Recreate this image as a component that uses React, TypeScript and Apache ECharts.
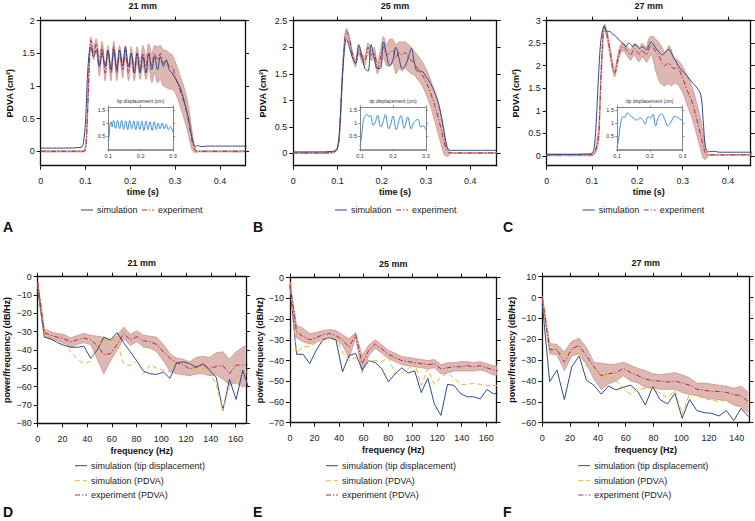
import React, { useEffect, useRef } from "react";
import * as echarts from "echarts";

// ---------- Top panels (PDVA vs time) ----------
const tA = [0, 0.05, 0.09, 0.095, 0.1, 0.104, 0.108, 0.112, 0.118, 0.124, 0.131, 0.137, 0.144, 0.15, 0.157, 0.163, 0.17, 0.176, 0.183, 0.189, 0.196, 0.202, 0.209, 0.215, 0.222, 0.228, 0.235, 0.241, 0.248, 0.254, 0.261, 0.267, 0.274, 0.28, 0.287, 0.293, 0.3, 0.31, 0.32, 0.33, 0.338, 0.345, 0.35, 0.36, 0.37, 0.38, 0.4, 0.46];
const simA = [0.05, 0.05, 0.06, 0.12, 0.45, 1.1, 1.5, 1.6, 1.45, 1.55, 1.3, 1.5, 1.3, 1.55, 1.25, 1.55, 1.25, 1.55, 1.3, 1.6, 1.3, 1.5, 1.2, 1.5, 1.2, 1.45, 1.2, 1.5, 1.25, 1.45, 1.25, 1.45, 1.3, 1.4, 1.25, 1.2, 1.12, 1.0, 0.78, 0.5, 0.2, 0.07, 0.09, 0.07, 0.08, 0.08, 0.08, 0.08];
const expA = [0, 0, 0, 0, 0.03, 0.5, 1.25, 1.7, 1.5, 1.65, 1.3, 1.6, 1.2, 1.55, 1.2, 1.6, 1.2, 1.55, 1.25, 1.55, 1.2, 1.5, 1.2, 1.5, 1.25, 1.5, 1.3, 1.5, 1.3, 1.5, 1.4, 1.5, 1.35, 1.4, 1.3, 1.3, 1.15, 0.95, 0.75, 0.45, 0.15, 0.01, 0, 0, 0, 0, 0, 0];
const loA = [-0.01, -0.01, -0.01, -0.01, 0.0, 0.4, 1.1, 1.6, 1.4, 1.55, 1.15, 1.5, 1.08, 1.45, 1.08, 1.48, 1.08, 1.45, 1.12, 1.45, 1.08, 1.38, 1.08, 1.36, 1.1, 1.32, 1.1, 1.28, 1.05, 1.2, 1.05, 1.1, 1.0, 0.98, 0.95, 0.95, 0.9, 0.72, 0.5, 0.25, 0.02, -0.02, -0.01, -0.01, -0.01, -0.01, -0.01, -0.01];
const hiA = [0.01, 0.01, 0.01, 0.01, 0.08, 0.65, 1.4, 1.75, 1.6, 1.72, 1.45, 1.68, 1.32, 1.62, 1.32, 1.68, 1.32, 1.62, 1.38, 1.62, 1.32, 1.6, 1.32, 1.6, 1.38, 1.62, 1.45, 1.65, 1.5, 1.62, 1.6, 1.62, 1.55, 1.55, 1.5, 1.48, 1.38, 1.18, 0.98, 0.68, 0.3, 0.04, 0.01, 0.01, 0.01, 0.01, 0.01, 0.01];

const tB = [0, 0.05, 0.09, 0.1, 0.105, 0.11, 0.115, 0.12, 0.127, 0.134, 0.141, 0.148, 0.155, 0.162, 0.169, 0.176, 0.183, 0.19, 0.197, 0.204, 0.211, 0.218, 0.225, 0.232, 0.239, 0.246, 0.253, 0.26, 0.267, 0.274, 0.281, 0.29, 0.3, 0.31, 0.32, 0.33, 0.34, 0.345, 0.35, 0.355, 0.36, 0.38, 0.4, 0.46];
const simB = [0.03, 0.03, 0.04, 0.12, 0.5, 1.3, 1.9, 2.15, 2.0, 1.8, 1.7, 2.05, 1.85, 1.6, 1.55, 2.05, 1.8, 1.6, 1.6, 2.1, 1.85, 1.65, 1.75, 2.0, 1.8, 1.6, 1.65, 1.8, 1.98, 1.7, 1.55, 1.55, 1.45, 1.32, 1.15, 0.9, 0.45, 0.2, 0.08, 0.06, 0.06, 0.06, 0.06, 0.06];
const expB = [0.01, 0.01, 0.02, 0.1, 0.45, 1.3, 2.0, 2.3, 2.15, 1.85, 1.7, 1.95, 1.8, 1.75, 2.0, 1.85, 1.9, 1.6, 1.8, 2.0, 1.85, 1.9, 1.95, 1.8, 1.9, 1.85, 1.9, 1.8, 1.75, 1.7, 1.6, 1.5, 1.35, 1.15, 0.9, 0.6, 0.25, 0.1, 0.02, 0.01, 0.01, 0.01, 0.01, 0.01];
const loB = [0, 0, 0.01, 0.08, 0.35, 1.15, 1.9, 2.2, 2.05, 1.78, 1.63, 1.88, 1.72, 1.66, 1.9, 1.75, 1.78, 1.5, 1.65, 1.8, 1.65, 1.65, 1.7, 1.5, 1.6, 1.55, 1.6, 1.55, 1.5, 1.48, 1.4, 1.3, 1.12, 0.9, 0.6, 0.3, 0.0, -0.05, -0.05, 0, 0, 0, 0, 0];
const hiB = [0.02, 0.02, 0.03, 0.12, 0.55, 1.4, 2.1, 2.35, 2.2, 1.92, 1.77, 2.02, 1.88, 1.84, 2.08, 1.95, 2.0, 1.72, 1.95, 2.2, 2.05, 2.15, 2.15, 2.05, 2.1, 2.1, 2.1, 2.05, 2.0, 1.92, 1.85, 1.75, 1.6, 1.4, 1.15, 0.85, 0.5, 0.25, 0.08, 0.02, 0.02, 0.02, 0.02, 0.02];

const tC = [0, 0.05, 0.09, 0.1, 0.105, 0.11, 0.115, 0.12, 0.127, 0.133, 0.14, 0.145, 0.15, 0.155, 0.16, 0.165, 0.17, 0.175, 0.18, 0.185, 0.19, 0.195, 0.2, 0.205, 0.21, 0.215, 0.22, 0.225, 0.23, 0.235, 0.24, 0.245, 0.25, 0.255, 0.26, 0.265, 0.27, 0.275, 0.28, 0.285, 0.29, 0.3, 0.31, 0.32, 0.33, 0.34, 0.345, 0.35, 0.355, 0.36, 0.37, 0.38, 0.4, 0.46];
const simC = [0.03, 0.03, 0.04, 0.06, 0.2, 0.9, 1.9, 2.6, 2.88, 2.75, 2.76, 2.7, 2.68, 2.62, 2.58, 2.52, 2.48, 2.42, 2.5, 2.48, 2.42, 2.47, 2.44, 2.38, 2.42, 2.4, 2.35, 2.45, 2.53, 2.48, 2.4, 2.33, 2.28, 2.24, 2.28, 2.34, 2.36, 2.28, 2.18, 2.1, 2.0, 1.88, 1.77, 1.64, 1.53, 1.35, 0.8, 0.2, 0.1, 0.09, 0.1, 0.08, 0.08, 0.08];
const expC = [0.02, 0.02, 0.02, 0.02, 0.05, 0.2, 0.5, 1.8, 2.88, 2.7, 2.3, 2.0, 1.83, 2.05, 2.28, 2.4, 2.42, 2.36, 2.3, 2.24, 2.32, 2.38, 2.3, 2.26, 2.35, 2.3, 2.24, 2.36, 2.46, 2.4, 2.32, 2.25, 2.17, 2.05, 2.0, 2.04, 2.05, 1.98, 1.94, 1.95, 1.94, 1.72, 1.45, 1.22, 0.85, 0.45, 0.22, 0.06, 0.02, 0.02, 0.02, 0.02, 0.02, 0.02];
const loC = [0, 0, 0, 0, 0.03, 0.12, 0.35, 1.6, 2.8, 2.6, 2.2, 1.9, 1.75, 1.95, 2.18, 2.3, 2.32, 2.25, 2.18, 2.12, 2.2, 2.22, 2.12, 2.1, 2.2, 2.15, 2.08, 2.15, 2.25, 2.12, 1.9, 1.75, 1.62, 1.58, 1.55, 1.58, 1.6, 1.55, 1.6, 1.6, 1.58, 1.4, 1.12, 0.85, 0.5, 0.12, -0.05, -0.08, -0.02, 0.01, 0.01, 0.01, 0.01, 0.01];
const hiC = [0.04, 0.04, 0.04, 0.04, 0.08, 0.3, 0.7, 2.0, 2.92, 2.78, 2.4, 2.1, 1.92, 2.15, 2.38, 2.5, 2.5, 2.45, 2.4, 2.35, 2.45, 2.5, 2.45, 2.4, 2.5, 2.45, 2.42, 2.6, 2.65, 2.65, 2.6, 2.55, 2.48, 2.4, 2.3, 2.35, 2.45, 2.35, 2.2, 2.15, 2.12, 1.98, 1.78, 1.55, 1.2, 0.8, 0.5, 0.2, 0.06, 0.03, 0.03, 0.03, 0.03, 0.03];

// ---------- Insets (tip displacement) ----------
const inTA = [0.1, 0.103, 0.106, 0.109, 0.112, 0.116, 0.1225, 0.1285, 0.135, 0.141, 0.1475, 0.154, 0.16, 0.166, 0.1725, 0.179, 0.185, 0.191, 0.1975, 0.204, 0.21, 0.2165, 0.223, 0.229, 0.2355, 0.242, 0.248, 0.254, 0.26, 0.2665, 0.273, 0.279, 0.2855, 0.292, 0.3];
const inYA = [0.28, 0.6, 1.0, 1.05, 0.85, 1.1, 0.8, 1.1, 0.78, 1.1, 0.76, 1.08, 0.75, 1.1, 0.78, 1.08, 0.74, 1.08, 0.76, 1.07, 0.72, 1.08, 0.75, 1.05, 0.72, 1.05, 0.75, 1.0, 0.78, 1.0, 0.78, 0.95, 0.75, 0.85, 0.65];
const inTB = [0.1, 0.104, 0.108, 0.113, 0.121, 0.127, 0.132, 0.14, 0.147, 0.153, 0.163, 0.17, 0.177, 0.187, 0.194, 0.2, 0.21, 0.217, 0.224, 0.234, 0.239, 0.244, 0.255, 0.262, 0.269, 0.276, 0.284, 0.292, 0.3];
const inYB = [0.12, 0.4, 0.9, 1.2, 1.33, 1.25, 1.28, 0.91, 1.05, 1.3, 0.85, 1.05, 1.32, 0.78, 1.0, 1.27, 0.75, 1.05, 1.28, 0.8, 1.0, 1.23, 0.78, 1.0, 1.1, 1.14, 0.85, 0.9, 0.75];
const inTC = [0.1, 0.105, 0.11, 0.118, 0.124, 0.131, 0.14, 0.15, 0.16, 0.17, 0.178, 0.186, 0.195, 0.203, 0.21, 0.218, 0.226, 0.237, 0.247, 0.255, 0.265, 0.2765, 0.287, 0.3];
const inYC = [0.08, 0.4, 0.9, 1.25, 1.22, 1.4, 1.3, 1.2, 1.12, 1.2, 1.15, 0.97, 1.25, 1.2, 1.35, 0.9, 1.22, 1.35, 1.1, 0.9, 1.05, 1.27, 1.2, 1.1];

// ---------- Bottom panels (PSD) ----------
const freqDE = [0, 5.35, 10.7, 16.05, 21.4, 26.75, 32.1, 37.45, 42.8, 48.15, 53.5, 58.85, 64.2, 69.55, 74.9, 80.25, 85.6, 90.95, 96.3, 101.65, 107, 112.35, 117.7, 123.05, 128.4, 133.75, 139.1, 144.45, 149.8, 155.15, 160.5, 165.85, 171.2];
const tipD = [-7, -33, -34, -36, -37.5, -38.5, -38.5, -38, -44.5, -40, -33, -34.5, -30.5, -36, -41, -46, -51.5, -53, -53.3, -52, -55.5, -47, -46.5, -47.5, -49.5, -47.5, -51, -55, -73, -56, -67, -51, -62];
const pdvaD = [-4, -32, -33, -34.5, -36, -41, -45, -47.5, -46, -37.5, -35.5, -33, -36, -47.5, -48.5, -46, -53, -48, -50, -51, -52, -46, -50, -46.5, -53.5, -50, -52, -59, -73, -59, -55, -53, -51];
const expD = [-3, -30.5, -32, -33, -34, -35.5, -34.5, -33.5, -34.5, -37.5, -42.5, -42, -37, -31, -34.5, -32.7, -35, -35.5, -37, -41, -44.5, -47, -48, -50.5, -49, -48, -50, -49, -48.5, -53, -48.2, -48.2, -48];
const loD = [-4, -32.5, -34, -35, -36.5, -38.5, -37, -36, -37, -45, -53, -46, -40, -34, -37.5, -35.5, -38.5, -39, -41, -46, -51.5, -53, -53.5, -54, -53, -53, -54, -53.5, -56, -59, -58, -60, -60];
const hiD = [-2, -28.5, -30, -31, -31.5, -33.5, -32, -31, -32, -32.5, -33, -35, -32, -27.5, -31.5, -29.5, -32, -32.5, -33, -37, -42, -44.5, -45, -46.5, -44, -43.5, -44, -41.5, -41, -45, -41, -38.5, -37];

const tipE = [-4, -37, -37, -41.5, -35, -30, -29, -30, -45.5, -37.5, -36.6, -44.5, -40, -41, -44, -50.3, -46.5, -43.5, -46, -45, -55.5, -48.5, -61, -66.5, -51.5, -52, -56, -57.5, -57.5, -58.5, -54, -56, -56];
const pdvaE = [-2, -36, -33.5, -33, -31.5, -30.5, -29, -29, -36, -40, -38.5, -41.5, -40, -40, -40.5, -38.5, -46.5, -46, -44, -41, -52, -44, -51.5, -48, -46, -48.5, -51.5, -51.5, -51, -51.5, -52, -52, -52];
const expE = [-3, -26, -28.5, -30, -29, -27.5, -27, -28, -30, -33.5, -27.5, -41.5, -35, -32, -34.5, -37, -38.5, -40, -40.5, -41, -41.5, -42, -41.5, -44, -43.5, -43, -43, -42.5, -43, -42.5, -43.5, -44.5, -45];
const loE = [-4, -29, -31, -32, -31, -29.5, -29, -30, -32.5, -39, -29, -46, -37.5, -34, -36.5, -39, -40.5, -42, -42.5, -43, -43.5, -44, -43.5, -46.5, -46, -45, -45, -45, -45, -44.5, -45.5, -47, -47];
const hiE = [-2, -23, -24.5, -27, -26.5, -25.5, -25, -25.5, -27.5, -29.5, -26.5, -37.5, -32.5, -30, -32.5, -35, -36.5, -38, -38.5, -39, -39.5, -40, -39.5, -42, -41, -41, -40.5, -40.5, -41, -40.5, -41.5, -42.5, -42.5];

const freqF = [0, 5.3, 10.6, 15.9, 21.2, 26.5, 31.8, 37.1, 42.4, 47.7, 53, 58.3, 63.6, 68.9, 74.2, 79.5, 84.8, 90.1, 95.4, 100.7, 106, 111.3, 116.6, 121.9, 127.2, 132.5, 137.8, 143.1, 148.4];
const tipF = [-3, -40.3, -34.8, -48.9, -33.2, -28, -39.6, -42, -46.3, -42.4, -44.3, -43, -42, -45.2, -51.5, -42.7, -49, -51, -45.9, -57.9, -48.8, -54.2, -55.2, -55.5, -56.8, -54.2, -59, -53.1, -57.1];
const pdvaF = [0, -25, -25, -27, -26, -27, -33, -33.5, -38.5, -37, -40, -43, -46.5, -44, -43.5, -43.5, -46, -48, -44.5, -56, -46, -47, -48.5, -49, -50, -49, -51.5, -52, -50];
const expF = [0, -25, -25, -31, -24.5, -23, -28, -33, -37.5, -36.5, -36, -34, -36, -37.5, -39, -40, -40, -40.5, -40, -41, -42, -44, -44.5, -45, -45, -45.5, -46.5, -47, -50];
const loF = [-1, -27, -27.5, -35, -28, -27, -32, -39, -44, -41.5, -40, -37.5, -40, -41, -43, -43.5, -44, -44, -44, -45.5, -46.5, -47, -48, -48.5, -49, -49.5, -51.5, -52.5, -55.5];
const hiF = [1, -22, -22.5, -26, -21, -19.5, -24, -31, -31.5, -32, -32, -31, -32.5, -34, -35, -36.5, -37, -36.5, -36, -37, -38.5, -41, -41, -41.5, -42, -42.5, -43.5, -42.5, -45.5];

// ---------- Tick values / labels ----------
const timeTicks = [0, 0.1, 0.2, 0.3, 0.4];
const pdvaTicksA = [0, 0.5, 1, 1.5, 2];
const pdvaTicksB = [0, 0.5, 1, 1.5, 2, 2.5];
const pdvaTicksC = [0, 0.5, 1, 1.5, 2, 2.5, 3];
const freqTicksDE = [0, 20, 40, 60, 80, 100, 120, 140, 160];
const freqTicksF = [0, 20, 40, 60, 80, 100, 120, 140];
const dbTicksD = [-80, -70, -60, -50, -40, -30, -20, -10, 0];
const dbTicksE = [-70, -60, -50, -40, -30, -20, -10, 0];
const dbTicksF = [-60, -50, -40, -30, -20, -10, 0, 10];
const insetXTicks = [0.1, 0.2, 0.3];
const insetYTicks = [0.5, 1, 1.5];
const titles = ["21 mm", "25 mm", "27 mm"];
const topLegend = ["simulation", "experiment"];
const bottomLegend = ["simulation (tip displacement)", "simulation (PDVA)", "experiment (PDVA)"];
const letters = ["A", "B", "C", "D", "E", "F"];

const FONT = "'Liberation Sans', Arial, Helvetica, sans-serif";
const C_SIM = "#2f4b8a";
const C_EXP = "#b5283c";
const C_YEL = "#f0b23a";
const C_BAND = "#ddb8b3";
const C_BAND_EDGE = "#c58d88";
const C_INSET = "#3d8fd6";
const DASHDOT = [5, 2, 1.2, 2];
const DASH = [5, 3];

function fmt(v: number) {
  const r = Math.round(v * 1000) / 1000;
  return r < 0 ? "\u2212" + String(-r) : String(r);
}
function zip(xs: number[], ys: number[]) {
  return xs.map((x, i) => [x, ys[i]]);
}

function buildOption() {
  const grids: any[] = [
    { left: 40.7, top: 20.7, width: 204.3, height: 145 },
    { left: 293.3, top: 20.7, width: 203.4, height: 145 },
    { left: 546.7, top: 20.7, width: 204, height: 145 },
    { left: 37.7, top: 276.7, width: 208.3, height: 146.6 },
    { left: 290, top: 277.7, width: 206.7, height: 145 },
    { left: 542.3, top: 276.7, width: 207, height: 146 },
    { left: 108.3, top: 107.3, width: 64.7, height: 42 },
    { left: 360, top: 107.3, width: 66, height: 42 },
    { left: 617, top: 107.5, width: 65.5, height: 42 },
  ].map((g) => ({ ...g, containLabel: false, outerBoundsMode: "none", show: false }));

  const xAxes: any[] = [];
  const yAxes: any[] = [];
  const series: any[] = [];

  function frame(gi: number, c: any) {
    const inset = !!c.inset;
    const col = inset ? "#666" : "#111";
    const lw = inset ? 0.8 : 1.3;
    const tl = inset ? 2 : 4;
    const common = (ticks: number[], labels: boolean, lineW: number, lineC: string) => ({
      type: "value",
      gridIndex: gi,
      splitLine: { show: false },
      axisLine: { show: true, onZero: false, lineStyle: { color: lineC, width: lineW } },
      axisTick: { show: true, inside: false, length: tl, customValues: ticks, lineStyle: { color: col, width: inset ? 0.7 : 1 } },
      axisLabel: labels
        ? { show: true, customValues: ticks, formatter: fmt, fontSize: inset ? 5.5 : 9, color: inset ? "#333" : "#222", fontFamily: FONT }
        : { show: false },
    });
    const xb: any = { ...common(c.xTicks, true, inset ? 1.8 : lw, inset ? "#999" : col), position: "bottom", min: c.xMin, max: c.xMax };
    xb.axisLabel.margin = inset ? 3.5 : 11;
    if (c.xName) {
      xb.name = c.xName;
      xb.nameLocation = "middle";
      xb.nameGap = c.xGap;
      xb.nameTextStyle = { fontWeight: "bold", fontSize: 9, color: "#111", fontFamily: FONT };
    }
    const xt: any = { ...common(c.xTicks, false, lw, col), position: "top", min: c.xMin, max: c.xMax };
    if (c.title) {
      xt.name = c.title;
      xt.nameLocation = "middle";
      xt.nameGap = c.titleGap;
      xt.nameTextStyle = inset
        ? { fontSize: 5, color: "#333", fontFamily: FONT }
        : { fontWeight: "bold", fontSize: 9, color: "#111", fontFamily: FONT };
    }
    const yl: any = { ...common(c.yTicks, true, lw, col), position: "left", min: c.yMin, max: c.yMax };
    yl.axisLabel.margin = inset ? 3 : 6;
    if (c.yName) {
      yl.name = c.yName;
      yl.nameLocation = "middle";
      yl.nameGap = 26;
      yl.nameTextStyle = { fontWeight: "bold", fontSize: 9, color: "#111", fontFamily: FONT };
    }
    const yr: any = { ...common(c.yTicks, false, lw, col), position: "right", min: c.yMin, max: c.yMax };
    xAxes.push(xb, xt);
    yAxes.push(yl, yr);
  }

  // shaded experimental range: one custom item drawing the whole band via the axes' coord()
  function band(gi: number, xs: number[], lo: number[], hi: number[], smooth: number) {
    series.push({
      type: "custom",
      coordinateSystem: "cartesian2d",
      xAxisIndex: 2 * gi,
      yAxisIndex: 2 * gi,
      silent: true,
      data: [[xs[0], lo[0]]],
      renderItem: (params: any, api: any) => {
        const top = xs.map((x, i) => api.coord([x, hi[i]]));
        const bot = xs.map((x, i) => api.coord([x, lo[i]]));
        const cs = params.coordSys;
        const poly = top.concat(bot.slice().reverse());
        return {
          type: "group",
          clipPath: { type: "rect", shape: { x: cs.x, y: cs.y, width: cs.width, height: cs.height } },
          children: [
            { type: "polygon", shape: { points: poly, smooth }, style: { fill: C_BAND, stroke: null } },
            { type: "polyline", shape: { points: top, smooth }, style: { fill: null, stroke: C_BAND_EDGE, lineWidth: 0.7 } },
            { type: "polyline", shape: { points: bot, smooth }, style: { fill: null, stroke: C_BAND_EDGE, lineWidth: 0.7 } },
          ],
        };
      },
    });
  }
  function line(gi: number, name: string, xs: number[], ys: number[], color: string, type: any, smooth: number | boolean, width = 1) {
    series.push({
      type: "line", name, xAxisIndex: 2 * gi, yAxisIndex: 2 * gi, data: zip(xs, ys),
      symbol: "none", showSymbol: false, smooth, silent: true, lineStyle: { color, width, type },
      itemStyle: { color },
    });
  }

  const tops = [
    { t: tA, sim: simA, exp: expA, lo: loA, hi: hiA, yMin: -0.22, yMax: 2, yTicks: pdvaTicksA, xMax: 0.456 },
    { t: tB, sim: simB, exp: expB, lo: loB, hi: hiB, yMin: -0.23, yMax: 2.5, yTicks: pdvaTicksB, xMax: 0.46 },
    { t: tC, sim: simC, exp: expC, lo: loC, hi: hiC, yMin: -0.22, yMax: 3, yTicks: pdvaTicksC, xMax: 0.45 },
  ];
  tops.forEach((p, i) => {
    frame(i, {
      xMin: 0, xMax: p.xMax, xTicks: timeTicks, yMin: p.yMin, yMax: p.yMax, yTicks: p.yTicks,
      xName: "time (s)", xGap: 22, yName: "PDVA (cm\u00B2)", title: titles[i], titleGap: 10,
    });
    band(i, p.t, p.lo, p.hi, 0.3);
    line(i, "experiment", p.t, p.exp, C_EXP, DASHDOT, 0.35);
    line(i, "simulation", p.t, p.sim, C_SIM, "solid", 0.35);
  });

  const bots = [
    { f: freqDE, tip: tipD, pdva: pdvaD, exp: expD, lo: loD, hi: hiD, yMin: -80, yMax: 0, yTicks: dbTicksD, xMax: 168.5, xTicks: freqTicksDE },
    { f: freqDE, tip: tipE, pdva: pdvaE, exp: expE, lo: loE, hi: hiE, yMin: -70, yMax: 0, yTicks: dbTicksE, xMax: 168.5, xTicks: freqTicksDE },
    { f: freqF, tip: tipF, pdva: pdvaF, exp: expF, lo: loF, hi: hiF, yMin: -60, yMax: 10, yTicks: dbTicksF, xMax: 149, xTicks: freqTicksF },
  ];
  bots.forEach((p, k) => {
    const gi = 3 + k;
    frame(gi, {
      xMin: 0, xMax: p.xMax, xTicks: p.xTicks, yMin: p.yMin, yMax: p.yMax, yTicks: p.yTicks,
      xName: "frequency (Hz)", xGap: 23, yName: "power/frequency (dB/Hz)", title: titles[k], titleGap: 9.5,
    });
    band(gi, p.f, p.lo, p.hi, 0);
    line(gi, bottomLegend[0], p.f, p.tip, C_SIM, "solid", false);
    line(gi, bottomLegend[1], p.f, p.pdva, C_YEL, DASH, false);
    line(gi, bottomLegend[2], p.f, p.exp, C_EXP, DASHDOT, false);
  });

  const insets = [
    { t: inTA, y: inYA },
    { t: inTB, y: inYB },
    { t: inTC, y: inYC },
  ];
  insets.forEach((p, k) => {
    const gi = 6 + k;
    frame(gi, {
      inset: true, xMin: 0.1, xMax: 0.3, xTicks: insetXTicks, yMin: 0, yMax: 1.6, yTicks: insetYTicks,
      title: "tip displacement (cm)", titleGap: 4,
    });
    line(gi, "inset" + k, p.t, p.y, C_INSET, "solid", 0.4, 1);
  });

  // legends drawn as graphic keys
  const graphic: any[] = [];
  const key = (x: number, y: number, color: string, dash: any, label: string) => {
    graphic.push({
      type: "line", silent: true, shape: { x1: x, y1: y, x2: x + 12, y2: y },
      style: { stroke: color, lineWidth: 1, lineDash: dash },
    });
    graphic.push({
      type: "text", silent: true, x: x + 16, y,
      style: { text: label, font: "9px 'Liberation Sans', Arial, sans-serif", fill: "#222", verticalAlign: "middle", align: "left" },
    });
  };
  [81, 335, 582.7].forEach((x0) => {
    key(x0, 210, C_SIM, null, topLegend[0]);
    key(x0 + 61, 210, C_EXP, DASHDOT, topLegend[1]);
  });
  [75, 326, 578.3].forEach((x0) => {
    key(x0, 465.7, C_SIM, null, bottomLegend[0]);
    key(x0, 480.7, C_YEL, DASH, bottomLegend[1]);
    key(x0, 495, C_EXP, DASHDOT, bottomLegend[2]);
  });

  const letterPos = [[3, 220], [253, 220], [503, 220], [3, 505], [253, 505], [503, 505]];
  letters.forEach((L, i) => {
    graphic.push({
      type: "text", left: letterPos[i][0], top: letterPos[i][1], silent: true,
      style: { text: L, font: "bold 14px 'Liberation Sans', Arial, sans-serif", fill: "#111" },
    });
  });

  return {
    animation: false,
    backgroundColor: "#ffffff",
    textStyle: { fontFamily: FONT },
    grid: grids,
    xAxis: xAxes,
    yAxis: yAxes,
    graphic,
    series,
  };
}

export default function App() {
  const ref = useRef<HTMLDivElement>(null);
  useEffect(() => {
    if (!ref.current) return;
    const chart = echarts.init(ref.current, null, { renderer: "svg", width: 755, height: 521 });
    chart.setOption(buildOption() as any);
    return () => chart.dispose();
  }, []);
  return (
    <div
      ref={ref}
      style={{ position: "absolute", left: 0, top: 0, width: 755, height: 521, background: "#fff" }}
    />
  );
}
